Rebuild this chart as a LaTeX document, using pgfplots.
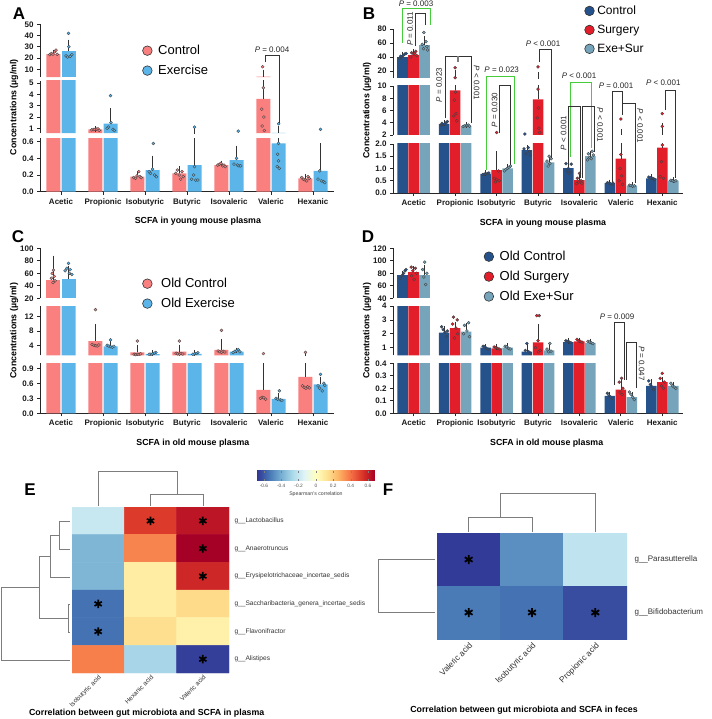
\documentclass[border=0pt]{standalone}
\usepackage{pgfplots}
\pgfplotsset{compat=1.18}
\usepackage{pgfplotstable}
\usepackage{fontspec}
\setmainfont{Liberation Sans}
\definecolor{cA}{RGB}{250,128,128}
\definecolor{eA}{RGB}{92,181,232}
\definecolor{cB}{RGB}{38,82,140}
\definecolor{sB}{RGB}{226,30,42}
\definecolor{xB}{RGB}{118,164,186}
\definecolor{grn}{RGB}{70,205,60}
\definecolor{dgc}{RGB}{125,125,125}
\def\yminseg{-1}\def\ymaxseg{1000}
\pgfplotsset{
 colormap={rdylbu}{rgb255=(49,54,149) rgb255=(69,117,180) rgb255=(116,173,209) rgb255=(171,217,233) rgb255=(224,243,248) rgb255=(255,255,191) rgb255=(254,224,144) rgb255=(253,174,97) rgb255=(244,109,67) rgb255=(215,48,39) rgb255=(165,0,38)},
 ptsdom/.style={},
 bardom/.style={},
 errdom/.style 2 args={restrict y to domain=-10:\ymaxseg, restrict expr to domain={\thisrow{#1}+\thisrow{#2}}{\yminseg:100000}},
 seg/.style={scale only axis, anchor=north west, xmin=-0.5, xmax=6.5, axis y line*=left,
   axis line style={-, line width=0.75pt, draw=black!85}, tick style={line width=0.75pt, draw=black!85},
   tick align=outside, major tick length=3pt,
   ticklabel style={font=\bfseries\fontsize{8}{9}\selectfont, text=black!90},
   /pgf/number format/assume math mode=true},
 segtop/.style={seg, axis x line=none, xtick=\empty},
 segbot/.style={seg, axis x line*=bottom, xtick={0,...,6},
   xticklabels={Acetic,Propionic,Isobutyric,Butyric,Isovaleric,Valeric,Hexanic},
   xlabel style={font=\bfseries\fontsize{8.8}{10}\selectfont, anchor=center, yshift=-30pt}},
 seglab/.style={ylabel={Concentrations (µg/ml)}, ylabel style={font=\bfseries\fontsize{8.8}{10}\selectfont, at={(axis description cs:0,0.5)}, anchor=center, yshift=26pt}},
 mybar/.style={ybar, bar width=#1, bar shift=0pt, draw=none, forget plot, bardom},
 errs/.style={draw=none, mark=none, forget plot, error bars/.cd, y dir=plus, y explicit,
   error bar style={line width=0.7pt, draw=black!80, solid},
   error mark options={mark size=2.8pt, line width=0.7pt, draw=black!80, solid}},
 pts/.style={only marks, forget plot, mark=*, mark size=1.5pt, mark options={fill=#1, draw=black!75, line width=0.35pt}, ptsdom},
 legimg/.style={only marks, mark=*, mark size=4.8pt, mark options={fill=#1, draw=black!80, line width=0.6pt}},
 bkl/.style={draw=black!80, line width=0.9pt, forget plot},
 grl/.style={draw=grn, line width=0.9pt, forget plot},
 dgl/.style={draw=dgc, line width=0.9pt, forget plot},
}
% ---------------- Panel A data ----------------
\pgfplotstableread{
c v1 e1 v2 e2
0 23.5 1.5 26 8
1 0.9 0.05 1.4 1.15
2 0.18 0.03 0.26 0.14
3 0.22 0.05 0.32 0.46
4 0.32 0.02 0.38 0.14
5 3.6 3.7 0.58 0.37
6 0.16 0.02 0.25 0.30
}\barsA
\pgfplotstableread{
c j y
0 -0.09 23.0
0 -0.05 24.0
0 -0.01 23.5
0 0.03 25.5
0 0.06 27.0
0 0.09 23.2
1 -0.09 0.85
1 -0.05 0.88
1 -0.01 0.90
1 0.03 0.92
1 0.06 0.95
1 0.09 0.82
2 -0.09 0.17
2 -0.05 0.16
2 -0.01 0.19
2 0.03 0.24
2 0.06 0.18
2 0.09 0.17
3 -0.09 0.22
3 -0.05 0.26
3 -0.01 0.20
3 0.03 0.15
3 0.06 0.24
3 0.09 0.18
4 -0.09 0.32
4 -0.05 0.33
4 -0.01 0.34
4 0.03 0.31
4 0.06 0.32
4 0.09 0.30
5 -0.02 12.3
5 0.00 4.6
5 -0.04 2.7
5 0.01 2.0
5 -0.03 1.2
5 0.02 0.8
6 -0.09 0.17
6 -0.05 0.15
6 -0.01 0.14
6 0.03 0.13
6 0.06 0.18
6 0.09 0.16
}\ptsAc
\pgfplotstableread{
c j y
0 0.00 42
0 0.01 30
0 -0.06 22
0 -0.02 21
0 0.04 21.5
0 0.08 23
1 0.00 3.9
1 0.01 1.5
1 -0.05 1.1
1 0.06 0.9
1 0.09 0.8
1 -0.08 1.0
2 0.02 0.58
2 0.00 0.27
2 -0.05 0.22
2 0.05 0.20
2 0.09 0.18
2 -0.08 0.24
3 0.00 1.1
3 0.00 0.30
3 -0.02 0.20
3 -0.07 0.15
3 0.03 0.14
3 0.08 0.14
4 0.04 0.75
4 0.00 0.40
4 -0.06 0.33
4 0.02 0.32
4 0.06 0.31
4 0.10 0.31
5 0.00 1.4
5 0.00 0.58
5 -0.02 0.45
5 0.00 0.37
5 -0.03 0.30
5 0.02 0.28
6 0.00 0.9
6 -0.02 0.25
6 -0.06 0.15
6 0.02 0.13
6 0.07 0.12
6 0.10 0.11
}\ptsAe
% ---------------- Panel B data ----------------
\pgfplotstableread{
c v1 e1 v2 e2 v3 e3
0 40.5 3 43 4 57 9
1 3.8 0.2 9.3 7.7 3.5 0.15
2 0.78 0.03 0.93 0.67 1.0 0.06
3 1.75 0.1 7.8 6.2 1.25 0.15
4 1.02 0.18 0.53 0.12 1.5 0.1
5 0.4 0.03 1.4 1.1 0.3 0.02
6 0.6 0.05 1.85 1.65 0.5 0.03
}\barsB
\pgfplotstableread{
c j y
0 -0.07 38
0 -0.03 40
0 0.01 42
0 0.05 44
0 0.08 45
0 -0.05 41
1 -0.07 3.6
1 -0.03 3.7
1 0.01 3.8
1 0.05 4.0
1 0.08 4.2
1 -0.05 3.9
2 -0.07 0.75
2 -0.03 0.77
2 0.01 0.78
2 0.05 0.80
2 0.08 0.82
3 -0.05 2.15
3 0.03 1.85
3 -0.07 1.8
3 0.06 1.7
3 -0.02 1.6
3 0.08 1.55
4 -0.06 1.2
4 0.07 1.18
4 0.00 1.0
4 -0.04 0.9
4 0.04 0.85
4 0.01 0.8
5 -0.06 0.42
5 -0.02 0.40
5 0.02 0.38
5 0.06 0.37
5 0.08 0.40
6 -0.06 0.65
6 -0.02 0.62
6 0.02 0.60
6 0.06 0.58
6 0.08 0.55
}\ptsBc
\pgfplotstableread{
c j y
0 0.05 48
0 -0.05 46
0 0.00 44
0 0.07 42
0 -0.07 40
0 0.02 45
1 0.00 24.7
1 0.00 10.4
1 0.01 9.0
1 -0.02 7.7
1 0.02 5.5
1 -0.03 5.1
1 0.04 4.3
2 0.00 2.4
2 0.05 0.9
2 -0.06 0.6
2 0.00 0.55
2 0.06 0.5
2 -0.03 0.45
3 0.00 26
3 0.00 9.5
3 0.01 6.4
3 -0.02 4.8
3 0.02 3.1
3 0.04 2.4
4 0.00 0.8
4 -0.05 0.6
4 0.04 0.5
4 -0.02 0.45
4 0.06 0.4
4 -0.07 0.38
5 0.00 4.6
5 0.00 1.57
5 -0.02 1.0
5 0.02 0.7
5 -0.04 0.5
5 0.04 0.35
6 0.00 5.5
6 0.00 3.4
6 0.00 1.96
6 -0.02 1.28
6 -0.05 0.67
6 0.03 0.6
}\ptsBs
\pgfplotstableread{
c j y
0 -0.02 75
0 0.03 62
0 -0.06 58
0 0.05 55
0 -0.03 52
0 0.07 50
1 -0.07 3.4
1 -0.03 3.5
1 0.01 3.55
1 0.05 3.6
1 0.08 3.45
2 0.07 1.1
2 0.03 1.05
2 -0.01 1.0
2 -0.05 0.95
2 -0.08 0.9
3 0.00 1.5
3 0.05 1.4
3 -0.05 1.3
3 0.02 1.2
3 -0.02 1.1
4 0.04 1.7
4 -0.05 1.6
4 0.07 1.55
4 -0.02 1.45
4 0.02 1.4
4 -0.07 1.35
5 -0.06 0.32
5 -0.02 0.30
5 0.02 0.28
5 0.06 0.30
6 -0.06 0.52
6 -0.02 0.50
6 0.02 0.48
6 0.06 0.50
}\ptsBx
% ---------------- Panel C data ----------------
\pgfplotstableread{
c v1 e1 v2 e2
0 50 34 51 17
1 5.2 4.0 3.7 0.9
2 2.0 1.4 1.5 0.3
3 2.2 1.2 1.6 0.3
4 2.7 2.3 2.2 0.4
5 0.47 0.51 0.29 0.07
6 0.73 0.72 0.58 0.10
}\barsC
\pgfplotstableread{
c j y
0 0.00 65
0 -0.03 60
0 0.02 55
0 -0.05 52
0 0.04 48
0 -0.01 45
1 0.00 14
1 -0.08 4.2
1 -0.04 4.0
1 0.00 3.9
1 0.04 3.8
1 0.08 4.1
2 0.00 5.2
2 -0.08 1.5
2 -0.04 1.4
2 0.00 1.45
2 0.04 1.5
2 0.08 1.6
3 0.00 5.2
3 -0.08 1.8
3 -0.04 1.6
3 0.00 1.5
3 0.04 1.7
3 0.08 1.55
4 0.00 8.2
4 -0.08 2.4
4 -0.04 2.2
4 0.00 2.0
4 0.04 2.3
4 0.08 2.1
5 0.00 1.7
5 -0.07 0.30
5 -0.03 0.32
5 0.01 0.31
5 0.05 0.28
6 0.00 2.0
6 -0.07 0.55
6 -0.03 0.52
6 0.01 0.50
6 0.05 0.53
6 0.09 0.51
}\ptsCc
\pgfplotstableread{
c j y
0 0.00 76
0 -0.04 68
0 0.04 66
0 -0.08 64
0 0.02 60
0 0.08 58
1 0.00 5.5
1 -0.08 4.0
1 -0.04 3.8
1 0.00 3.6
1 0.04 3.5
1 0.08 3.7
2 0.08 2.0
2 0.04 1.8
2 0.00 1.6
2 -0.04 1.5
2 -0.08 1.5
3 0.08 1.9
3 0.04 1.7
3 0.00 1.6
3 -0.04 1.5
4 0.04 2.8
4 0.00 2.5
4 -0.04 2.3
4 0.08 2.2
4 -0.08 2.0
5 0.02 0.45
5 -0.06 0.30
5 -0.02 0.28
5 0.04 0.27
5 0.08 0.26
6 0.00 0.78
6 0.08 0.60
6 -0.06 0.55
6 -0.02 0.50
6 0.04 0.45
6 0.10 0.56
}\ptsCe
% ---------------- Panel D data ----------------
\pgfplotstableread{
c v1 e1 v2 e2 v3 e3
0 78 2 82 5.5 78 10.5
1 2.08 0.27 2.4 0.25 2.15 0.4
2 1.0 0.08 0.95 0.1 1.0 0.1
3 0.72 0.38 1.38 1.12 0.8 0.35
4 1.4 0.1 1.45 0.07 1.35 0.1
5 0.14 0.01 0.19 0.06 0.13 0.02
6 0.22 0.03 0.25 0.02 0.22 0.01
}\barsD
\pgfplotstableread{
c j y
0 -0.06 72
0 -0.02 76
0 0.02 80
0 0.06 84
0 0.08 86
1 -0.06 2.5
1 -0.02 2.3
1 0.02 2.1
1 0.06 1.8
1 0.08 2.2
2 -0.06 1.1
2 -0.02 1.05
2 0.02 0.95
2 0.06 0.9
3 0.00 1.3
3 -0.04 0.8
3 0.04 0.7
3 0.08 0.6
4 -0.06 1.5
4 -0.02 1.45
4 0.02 1.4
4 0.06 1.35
5 -0.06 0.16
5 -0.02 0.14
5 0.02 0.13
5 0.06 0.12
6 -0.06 0.26
6 -0.02 0.23
6 0.02 0.21
6 0.06 0.19
}\ptsDc
\pgfplotstableread{
c j y
0 -0.06 90
0 0.04 88
0 -0.02 84
0 0.07 80
0 -0.05 76
0 0.01 70
1 -0.04 3.2
1 0.05 3.0
1 -0.06 2.7
1 0.02 2.4
1 0.06 2.0
1 -0.02 1.7
2 -0.06 1.05
2 -0.02 1.0
2 0.02 0.95
2 0.06 0.9
3 -0.03 3.3
3 0.03 3.3
3 0.00 1.5
3 -0.06 1.0
3 0.05 0.8
3 0.01 0.7
4 -0.06 1.6
4 -0.02 1.5
4 0.02 1.45
4 0.06 1.4
5 0.02 0.28
5 -0.04 0.25
5 0.05 0.20
5 -0.02 0.17
5 0.03 0.15
6 0.00 0.32
6 -0.05 0.28
6 0.05 0.25
6 -0.02 0.22
6 0.03 0.20
}\ptsDs
\pgfplotstableread{
c j y
0 0.00 98
0 -0.05 86
0 0.05 80
0 -0.02 74
0 0.02 62
1 0.06 2.8
1 -0.04 2.6
1 0.02 2.2
1 -0.06 2.0
1 0.08 1.8
2 -0.06 1.1
2 -0.02 1.05
2 0.02 0.95
2 0.06 0.9
3 0.02 1.3
3 -0.05 0.9
3 0.05 0.75
3 -0.01 0.7
4 -0.06 1.45
4 -0.02 1.4
4 0.02 1.35
4 0.06 1.3
5 -0.06 0.17
5 -0.02 0.15
5 0.02 0.13
5 0.06 0.11
6 -0.06 0.24
6 -0.02 0.22
6 0.02 0.21
6 0.06 0.20
}\ptsDx
% ---------------- Heatmaps ----------------
\pgfplotstableread{
x y c
0 0 -0.20
1 0 0.52
2 0 0.62
0 1 -0.38
1 1 0.36
2 1 0.68
0 2 -0.38
1 2 0.08
2 2 0.57
0 3 -0.55
1 3 0.08
2 3 0.15
0 4 -0.55
1 4 0.14
2 4 0.06
0 5 0.37
1 5 -0.28
2 5 -0.66
}\heatE
\pgfplotstableread{
x y c
0 0 -0.67
1 0 -0.48
2 0 -0.22
0 1 -0.53
1 1 -0.55
2 1 -0.63
}\heatF
% ---------------- plotting macros ----------------
\newcommand{\plotTwo}[3]{%
 \addplot[mybar=14pt, fill=cA] table[x expr=\thisrow{c}-0.179, y=v1]{#1};
 \addplot[mybar=14pt, fill=eA] table[x expr=\thisrow{c}+0.179, y=v2]{#1};
 \addplot[errdom={v1}{e1}, errs] table[x expr=\thisrow{c}-0.179, y=v1, y error=e1]{#1};
 \addplot[errdom={v2}{e2}, errs] table[x expr=\thisrow{c}+0.179, y=v2, y error=e2]{#1};
 \addplot[pts=cA] table[x expr=\thisrow{c}-0.179+\thisrow{j}, y=y]{#2};
 \addplot[pts=eA] table[x expr=\thisrow{c}+0.179+\thisrow{j}, y=y]{#3};
}
\newcommand{\plotThree}[4]{%
 \addplot[mybar=10.5pt, fill=cB] table[x expr=\thisrow{c}-0.266, y=v1]{#1};
 \addplot[mybar=10.5pt, fill=sB] table[x expr=\thisrow{c}, y=v2]{#1};
 \addplot[mybar=10.5pt, fill=xB] table[x expr=\thisrow{c}+0.266, y=v3]{#1};
 \addplot[errdom={v1}{e1}, errs] table[x expr=\thisrow{c}-0.266, y=v1, y error=e1]{#1};
 \addplot[errdom={v2}{e2}, errs] table[x expr=\thisrow{c}, y=v2, y error=e2]{#1};
 \addplot[errdom={v3}{e3}, errs] table[x expr=\thisrow{c}+0.266, y=v3, y error=e3]{#1};
 \addplot[pts=cB] table[x expr=\thisrow{c}-0.266+\thisrow{j}, y=y]{#2};
 \addplot[pts=sB] table[x expr=\thisrow{c}+\thisrow{j}, y=y]{#3};
 \addplot[pts=xB] table[x expr=\thisrow{c}+0.266+\thisrow{j}, y=y]{#4};
}
\begin{document}
\begin{tikzpicture}
\useasboundingbox (0,0) rectangle (711pt,-719pt);
% ===== Panel A =====
\def\yminseg{3}\def\ymaxseg{50}
\begin{axis}[segtop, at={(40pt,-24.3pt)}, width=294pt, height=52.9pt, ymin=3, ymax=50, ytick={10,20,...,50},
  ptsdom/.style={restrict y to domain=5.2:200}, bardom/.style={restrict y to domain=3.05:1000},
  legend style={at={(0.338,0.684)}, anchor=north west, draw=none, fill=none, font=\fontsize{13}{15}\selectfont, row sep=5pt, /tikz/every odd column/.append style={column sep=4pt}}, legend cell align=left]
 \addlegendimage{legimg=cA}\addlegendentry{Control}
 \addlegendimage{legimg=eA}\addlegendentry{Exercise}
 \plotTwo{\barsA}{\ptsAc}{\ptsAe}
\end{axis}
\def\yminseg{0.56}\def\ymaxseg{5.2}
\begin{axis}[segtop, seglab, at={(40pt,-81pt)}, width=294pt, height=52.2pt, ymin=0.56, ymax=5.2, ytick={1,2,3,4,5},
  ptsdom/.style={restrict y to domain=0.64:5.2}, bardom/.style={restrict y to domain=0.57:1000}]
 \plotTwo{\barsA}{\ptsAc}{\ptsAe}
\end{axis}
\def\yminseg{-1}\def\ymaxseg{0.64}
\begin{axis}[segbot, at={(40pt,-138.4pt)}, width=294pt, height=53.3pt, ymin=0, ymax=0.64, ytick={0,0.2,0.4,0.6},
  yticklabel style={/pgf/number format/.cd, fixed, fixed zerofill, precision=1},
  ptsdom/.style={restrict y to domain=0:0.64},
  xlabel={SCFA in young mouse plasma}, xlabel style={at={(axis description cs:0.537,0)}}]
 \plotTwo{\barsA}{\ptsAc}{\ptsAe}
\end{axis}
% ===== Panel B =====
\def\yminseg{10}\def\ymaxseg{80}
\begin{axis}[segtop, at={(393pt,-29pt)}, width=290pt, height=49pt, ymin=10, ymax=80, ytick={20,40,60,80},
  ptsdom/.style={restrict y to domain=10:200}, bardom/.style={restrict y to domain=10.1:1000},
  legend style={at={(0.65,1.559)}, anchor=north west, draw=none, fill=none, font=\fontsize{12}{14}\selectfont, row sep=5pt, /tikz/every odd column/.append style={column sep=1pt}}, legend cell align=left]
 \addlegendimage{legimg=cB}\addlegendentry{Control}
 \addlegendimage{legimg=sB}\addlegendentry{Surgery}
 \addlegendimage{legimg=xB}\addlegendentry{Exe+Sur}
 \plotThree{\barsB}{\ptsBc}{\ptsBs}{\ptsBx}
\end{axis}
\def\yminseg{2}\def\ymaxseg{10}
\begin{axis}[segtop, seglab, at={(393pt,-86pt)}, width=290pt, height=49pt, ymin=2, ymax=10, ytick={2,4,6,8,10},
  ptsdom/.style={restrict y to domain=2.05:10}, bardom/.style={restrict y to domain=2.05:1000}]
 \plotThree{\barsB}{\ptsBc}{\ptsBs}{\ptsBx}
\end{axis}
\def\yminseg{-1}\def\ymaxseg{2}
\begin{axis}[segbot, at={(393pt,-144pt)}, width=290pt, height=49pt, ymin=0, ymax=2, ytick={0,0.5,1,1.5,2},
  yticklabel style={/pgf/number format/.cd, fixed, fixed zerofill, precision=1},
  ptsdom/.style={restrict y to domain=0:2.05},
  xlabel={SCFA in young mouse plasma}, xlabel style={at={(axis description cs:0.517,0)}}]
 \plotThree{\barsB}{\ptsBc}{\ptsBs}{\ptsBx}
\end{axis}
% ===== Panel C =====
\def\yminseg{20}\def\ymaxseg{100}
\begin{axis}[segtop, at={(40pt,-248.3pt)}, width=294pt, height=50pt, ymin=20, ymax=100, ytick={20,40,...,100},
  ptsdom/.style={restrict y to domain=15:200}, bardom/.style={restrict y to domain=20.2:1000},
  legend style={at={(0.338,0.486)}, anchor=north west, draw=none, fill=none, font=\fontsize{13}{15}\selectfont, row sep=5pt, /tikz/every odd column/.append style={column sep=7pt}}, legend cell align=left]
 \addlegendimage{legimg=cA}\addlegendentry{Old Control}
 \addlegendimage{legimg=eA}\addlegendentry{Old Exercise}
 \plotTwo{\barsC}{\ptsCc}{\ptsCe}
\end{axis}
\def\yminseg{1.2}\def\ymaxseg{15}
\begin{axis}[segtop, seglab, at={(40pt,-306pt)}, width=294pt, height=49.3pt, ymin=1.2, ymax=15, ytick={4,8,12},
  ptsdom/.style={restrict y to domain=1.0:15}, bardom/.style={restrict y to domain=1.22:1000}]
 \plotTwo{\barsC}{\ptsCc}{\ptsCe}
\end{axis}
\def\yminseg{-1}\def\ymaxseg{1.0}
\begin{axis}[segbot, at={(40pt,-363.3pt)}, width=294pt, height=50pt, ymin=0, ymax=1.0, ytick={0,0.3,0.6,0.9},
  yticklabel style={/pgf/number format/.cd, fixed, fixed zerofill, precision=1},
  ptsdom/.style={restrict y to domain=0:1.0},
  xlabel={SCFA in old mouse plasma}, xlabel style={at={(axis description cs:0.52,0)}}]
 \plotTwo{\barsC}{\ptsCc}{\ptsCe}
\end{axis}
% ===== Panel D =====
\def\yminseg{40}\def\ymaxseg{120}
\begin{axis}[segtop, at={(393pt,-248.3pt)}, width=290pt, height=50pt, ymin=40, ymax=120, ytick={40,60,...,120},
  ptsdom/.style={restrict y to domain=4:200}, bardom/.style={restrict y to domain=40.2:1000},
  legend style={at={(0.303,1.026)}, anchor=north west, draw=none, fill=none, font=\fontsize{13}{15}\selectfont, row sep=5pt, /tikz/every odd column/.append style={column sep=4pt}}, legend cell align=left]
 \addlegendimage{legimg=cB}\addlegendentry{Old Control}
 \addlegendimage{legimg=sB}\addlegendentry{Old Surgery}
 \addlegendimage{legimg=xB}\addlegendentry{Old Exe+Sur}
 \plotThree{\barsD}{\ptsDc}{\ptsDs}{\ptsDx}
\end{axis}
\def\yminseg{0.45}\def\ymaxseg{4}
\begin{axis}[segtop, seglab, at={(393pt,-306pt)}, width=290pt, height=49.3pt, ymin=0.45, ymax=4, ytick={1,2,3,4},
  ptsdom/.style={restrict y to domain=0.4:4}, bardom/.style={restrict y to domain=0.46:1000}]
 \plotThree{\barsD}{\ptsDc}{\ptsDs}{\ptsDx}
\end{axis}
\def\yminseg{-1}\def\ymaxseg{0.4}
\begin{axis}[segbot, at={(393pt,-363.3pt)}, width=290pt, height=50pt, ymin=0, ymax=0.4, ytick={0,0.1,0.2,0.3,0.4},
  yticklabel style={/pgf/number format/.cd, fixed, fixed zerofill, precision=1},
  ptsdom/.style={restrict y to domain=0:0.4},
  xlabel={SCFA in old mouse plasma}, xlabel style={at={(axis description cs:0.53,0)}}]
 \plotThree{\barsD}{\ptsDc}{\ptsDs}{\ptsDx}
\end{axis}
% ===== Panel E heatmap =====
\begin{axis}[scale only axis, at={(72pt,-507pt)}, anchor=north west, width=157pt, height=166pt,
  xmin=-0.5, xmax=2.5, ymin=-0.5, ymax=5.5, y dir=reverse, enlargelimits=false,
  axis line style={draw=none}, major tick length=0pt,
  xtick={0,1,2}, xticklabels={Isobutyric acid, Hexanic acid, Valeric acid},
  xticklabel style={rotate=45, anchor=north east, font=\fontsize{6.5}{7.5}\selectfont, text=black!80, inner sep=1pt},
  ytick={0,...,5}, yticklabel pos=right,
  yticklabels={g\_\_Lactobacillus, g\_\_Anaerotruncus, g\_\_Erysipelotrichaceae\_incertae\_sedis, g\_\_Saccharibacteria\_genera\_incertae\_sedis, g\_\_Flavonifractor, g\_\_Alistipes},
  yticklabel style={font=\fontsize{6.6}{8}\selectfont, text=black!80, xshift=2pt},
  colormap name=rdylbu, point meta min=-0.68, point meta max=0.68,
  colorbar horizontal,
  colorbar style={scale only axis, at={(1.178,1.217)}, anchor=north west, width=118pt, height=10pt,
    xtick={-0.6,-0.4,-0.2,0,0.2,0.4,0.6}, major tick length=2pt, axis line style={draw=none},
    xticklabel style={font=\fontsize{4.8}{5}\selectfont, text=black!70, /pgf/number format/assume math mode=true},
    xlabel={Spearman's correlation}, xlabel style={font=\fontsize{5.2}{6}\selectfont, text=black!75, yshift=3pt}}]
 \addplot[matrix plot*, mesh/cols=3, point meta=explicit] table[meta=c]{\heatE};
 \addplot[only marks, mark=asterisk, mark size=4.2pt, line width=1.7pt, black] coordinates {(1,0) (2,0) (2,1) (2,2) (0,3) (0,4) (2,5)};
\end{axis}
% ===== Panel F heatmap =====
\begin{axis}[scale only axis, at={(437pt,-533pt)}, anchor=north west, width=190pt, height=106pt,
  xmin=-0.5, xmax=2.5, ymin=-0.5, ymax=1.5, y dir=reverse, enlargelimits=false,
  axis line style={draw=none}, major tick length=0pt,
  xtick={0,1,2}, xticklabels={Valeric acid, Isobutyric acid, Propionic acid},
  xticklabel style={rotate=45, anchor=north east, font=\fontsize{8.3}{9}\selectfont, text=black!80, inner sep=2pt},
  ytick={0,1}, yticklabel pos=right,
  yticklabels={g\_\_Parasutterella, g\_\_Bifidobacterium},
  yticklabel style={font=\fontsize{8}{9}\selectfont, text=black!80, xshift=4pt},
  colormap name=rdylbu, point meta min=-0.68, point meta max=0.68]
 \addplot[matrix plot*, mesh/cols=3, point meta=explicit] table[meta=c]{\heatF};
 \addplot[only marks, mark=asterisk, mark size=4.5pt, line width=1.8pt, black] coordinates {(0,0) (0,1) (1,1) (2,1)};
\end{axis}
% ===== Overlay: annotations, dendrograms =====
\begin{axis}[at={(0pt,0pt)}, anchor=north west, scale only axis, width=711pt, height=719pt,
  xmin=0, xmax=711, ymin=0, ymax=719, y dir=reverse, hide axis, clip=false]
 % panel letters
 \node[font=\bfseries\fontsize{17}{17}\selectfont] at (axis cs:19,14) {A};
 \node[font=\bfseries\fontsize{17}{17}\selectfont] at (axis cs:369,14) {B};
 \node[font=\bfseries\fontsize{17}{17}\selectfont] at (axis cs:18,237) {C};
 \node[font=\bfseries\fontsize{17}{17}\selectfont] at (axis cs:368,237) {D};
 \node[font=\bfseries\fontsize{17}{17}\selectfont] at (axis cs:30,490) {E};
 \node[font=\bfseries\fontsize{17}{17}\selectfont] at (axis cs:388,490) {F};
 % A bracket
 \addplot[bkl] coordinates {(265,62) (265,55) (279,55) (279,123)};
 \node[font=\fontsize{8}{9}\selectfont, text=black!85] at (axis cs:272,49.5) {\textit{P} = 0.004};
 % B brackets
 \addplot[grl] coordinates {(402.7,43) (402.7,8.3) (430.7,8.3) (430.7,25)};
 \addplot[bkl] coordinates {(415,46) (415,13.3) (425,13.3) (425,25)};
 \node[font=\fontsize{8}{9}\selectfont, text=black!85] at (axis cs:416,3.5) {\textit{P} = 0.003};
 \node[font=\fontsize{8}{9}\selectfont, text=black!85, rotate=90] at (axis cs:410,29) {\textit{P} = 0.011};
 \addplot[bkl] coordinates {(445,118) (445,56) (471,56) (471,123)};
 \addplot[draw=dgc, line width=2pt, forget plot] coordinates {(457.7,56) (457.7,62)};
 \node[font=\fontsize{8}{9}\selectfont, text=black!85, rotate=90] at (axis cs:439,85) {\textit{P} = 0.023};
 \node[font=\fontsize{8}{9}\selectfont, text=black!85, rotate=-90] at (axis cs:476.5,83) {\textit{P} < 0.001};
 \addplot[grl] coordinates {(486.7,170) (486.7,76) (514.3,76) (514.3,164)};
 \addplot[bkl] coordinates {(499.3,133) (499.3,85) (510.7,85) (510.7,165)};
 \node[font=\fontsize{8}{9}\selectfont, text=black!85] at (axis cs:501.7,70) {\textit{P} = 0.023};
 \node[font=\fontsize{8}{9}\selectfont, text=black!85, rotate=90] at (axis cs:494.5,110) {\textit{P} = 0.030};
 \addplot[bkl] coordinates {(539,61.7) (539,49.3) (551.7,49.3) (551.7,158)};
 \node[font=\fontsize{8}{9}\selectfont, text=black!85] at (axis cs:543,43.3) {\textit{P} < 0.001};
 \addplot[grl] coordinates {(570.7,156.7) (570.7,82.7) (591.7,82.7) (591.7,148.3)};
 \addplot[bkl] coordinates {(568.3,165) (568.3,106.7) (580.7,106.7) (580.7,178)};
 \addplot[bkl] coordinates {(582.7,178) (582.7,106.7) (594,106.7) (594,152)};
 \node[font=\fontsize{8}{9}\selectfont, text=black!85] at (axis cs:579,76) {\textit{P} < 0.001};
 \node[font=\fontsize{8}{9}\selectfont, text=black!85, rotate=90] at (axis cs:563.5,133) {\textit{P} < 0.001};
 \node[font=\fontsize{8}{9}\selectfont, text=black!85, rotate=-90] at (axis cs:600,125) {\textit{P} < 0.001};
 \addplot[bkl] coordinates {(612.7,181.7) (612.7,91.7) (622.7,91.7) (622.7,115)};
 \addplot[bkl] coordinates {(622.7,103.3) (635,103.3) (635,183.3)};
 \node[font=\fontsize{8}{9}\selectfont, text=black!85] at (axis cs:616,86) {\textit{P} = 0.001};
 \node[font=\fontsize{8}{9}\selectfont, text=black!85, rotate=-90] at (axis cs:640,126) {\textit{P} < 0.001};
 \addplot[bkl] coordinates {(665,110) (665,90) (675,90) (675,178)};
 \node[font=\fontsize{8}{9}\selectfont, text=black!85] at (axis cs:663.3,82.5) {\textit{P} < 0.001};
 % D brackets
 \addplot[bkl] coordinates {(614.8,385) (614.8,322.7) (624.5,322.7) (624.5,380)};
 \addplot[bkl] coordinates {(626,380) (626,342.7) (636,342.7) (636,388.3)};
 \node[font=\fontsize{8}{9}\selectfont, text=black!85] at (axis cs:617,316.5) {\textit{P} = 0.009};
 \node[font=\fontsize{8}{9}\selectfont, text=black!85, rotate=-90] at (axis cs:641.7,363.3) {\textit{P} = 0.047};
 % E dendrograms
 \addplot[dgl] coordinates {(98,506) (98,471) (177,471) (177,494)};
 \addplot[dgl] coordinates {(150.5,506) (150.5,494) (203,494) (203,506)};
 \addplot[dgl] coordinates {(70,521) (59,521) (59,549) (70,549)};
 \addplot[dgl] coordinates {(59,535) (50,535) (50,577) (70,577)};
 \addplot[dgl] coordinates {(70,604) (68,604) (68,632) (70,632)};
 \addplot[dgl] coordinates {(50,556) (39,556) (39,618) (68,618)};
 \addplot[dgl] coordinates {(39,587) (1,587) (1,660) (70,660)};
 % F dendrograms
 \addplot[dgl] coordinates {(468.7,532) (468.7,517) (532,517) (532,532)};
 \addplot[dgl] coordinates {(500.3,517) (500.3,493.3) (595.3,493.3) (595.3,532)};
 \addplot[dgl] coordinates {(435,559.5) (378,559.5) (378,612.7) (435,612.7)};
 % heatmap titles
 \node[font=\bfseries\fontsize{8.8}{10}\selectfont] at (axis cs:146.7,713) {Correlation between gut microbiota and SCFA in plasma};
 \node[font=\bfseries\fontsize{8.8}{10}\selectfont] at (axis cs:524,710) {Correlation between gut microbiota and SCFA in feces};
\end{axis}
\end{tikzpicture}
\end{document}
